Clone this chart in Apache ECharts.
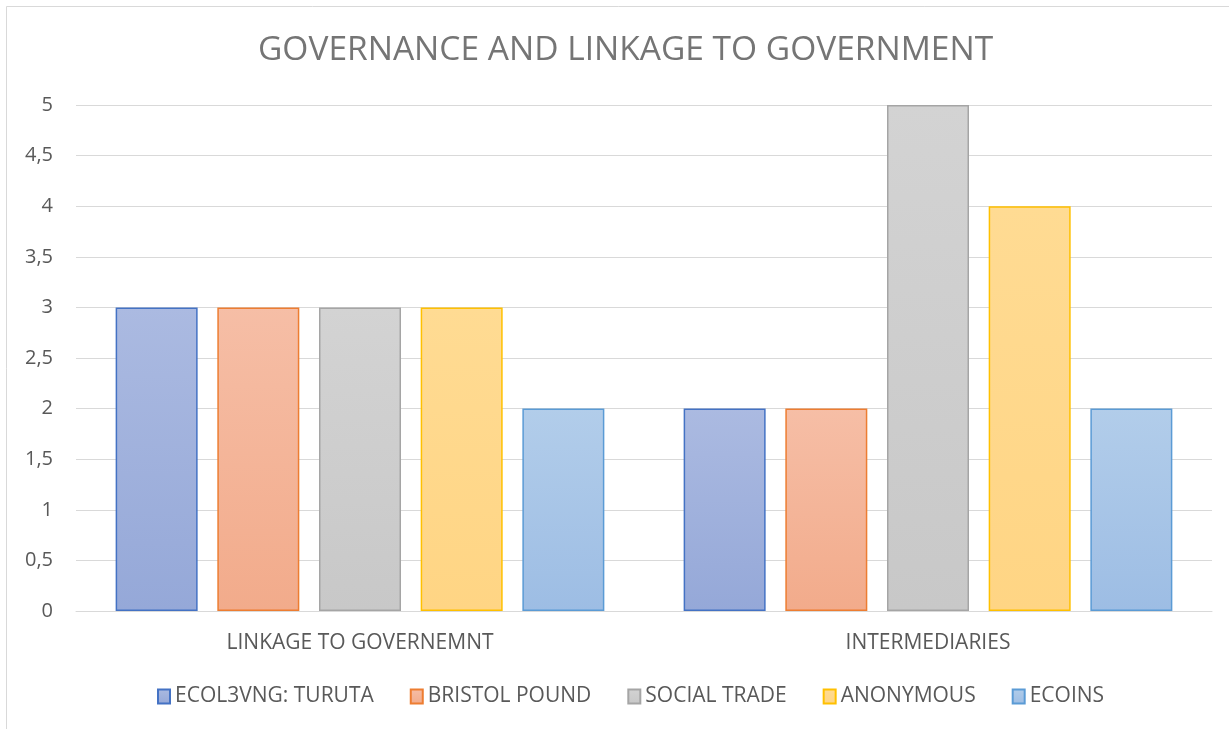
<!DOCTYPE html>
<html>
<head>
<meta charset="utf-8">
<script src="https://cdn.jsdelivr.net/npm/echarts@6/dist/echarts.min.js"></script>
<style>
  html, body { margin: 0; padding: 0; background: #fff; }
  #chart { width: 1229px; height: 729px; }
</style>
</head>
<body>
<div id="chart"></div>
<script>
// Chart data
const categories = ['LINKAGE TO GOVERNEMNT', 'INTERMEDIARIES'];
const seriesNames = ['ECOL3VNG: TURUTA', 'BRISTOL POUND', 'SOCIAL TRADE', 'ANONYMOUS', 'ECOINS'];
const ecol3vng = [3, 2];
const bristolPound = [3, 2];
const socialTrade = [3, 5];
const anonymous = [3, 4];
const ecoins = [2, 2];
const yTicks = [0, 0.5, 1, 1.5, 2, 2.5, 3, 3.5, 4, 4.5, 5];

const seriesValues = [ecol3vng, bristolPound, socialTrade, anonymous, ecoins];
// fill gradient (top, bottom) and outline per series
const palette = [
  { top: '#abbae1', bottom: '#95a8d8', border: '#4472c4' },
  { top: '#f6bea6', bottom: '#f2ab8b', border: '#ed7d31' },
  { top: '#d3d3d3', bottom: '#c8c8c8', border: '#a5a5a5' },
  { top: '#ffdb93', bottom: '#ffd584', border: '#ffc000' },
  { top: '#b2cdea', bottom: '#9dbde4', border: '#5b9bd5' }
];

const font = '"Open Sans", "Noto Sans", sans-serif';
const chart = echarts.init(document.getElementById('chart'), null, { renderer: 'canvas' });

chart.setOption({
  animation: false,
  backgroundColor: '#ffffff',
  title: {
    text: 'GOVERNANCE AND LINKAGE TO GOVERNMENT',
    left: 253,
    top: 28,
    textStyle: { fontFamily: font, fontSize: 33.5, fontWeight: 'normal', color: '#757575' }
  },
  graphic: [{
    type: 'rect',
    shape: { x: 6.5, y: 6.5, width: 1240, height: 740 },
    style: { fill: 'none', stroke: '#d9d9d9', lineWidth: 1 },
    silent: true
  }],
  legend: {
    bottom: 17,
    left: 152,
    icon: 'rect',
    itemWidth: 12,
    itemHeight: 14,
    itemGap: 36,
    textStyle: { fontFamily: font, fontSize: 21, color: '#595959' },
    data: seriesNames
  },
  grid: { left: 76, right: 17, top: 105, bottom: 118, containLabel: false },
  xAxis: {
    type: 'category',
    data: categories,
    axisLine: { show: true, lineStyle: { color: '#d9d9d9', width: 1 } },
    axisTick: { show: false },
    axisLabel: { fontFamily: font, fontSize: 21, color: '#595959', margin: 22 }
  },
  yAxis: {
    type: 'value',
    min: yTicks[0],
    max: yTicks[yTicks.length - 1],
    interval: 0.5,
    axisLine: { show: false },
    axisTick: { show: false },
    splitLine: { lineStyle: { color: '#d9d9d9', width: 1 } },
    axisLabel: {
      fontFamily: font, fontSize: 20, color: '#595959', margin: 23,
      formatter: v => String(v).replace('.', ',')
    }
  },
  series: seriesNames.map((name, i) => ({
    name: name,
    type: 'bar',
    data: seriesValues[i],
    barWidth: 82,
    barGap: '24%',
    itemStyle: {
      color: new echarts.graphic.LinearGradient(0, 0, 0, 1, [
        { offset: 0, color: palette[i].top },
        { offset: 1, color: palette[i].bottom }
      ]),
      borderColor: palette[i].border,
      borderWidth: 1.5
    }
  }))
});
</script>
</body>
</html>
